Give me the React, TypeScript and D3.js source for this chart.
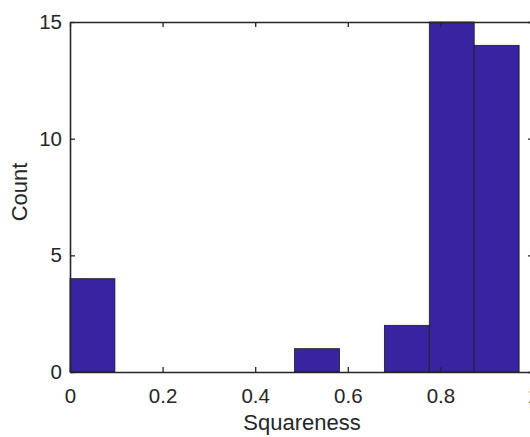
import React, { useEffect, useRef } from "react";
import * as d3 from "d3";

// histogram bins (edges) and counts
const binEdges = [0, 0.097, 0.194, 0.291, 0.388, 0.485, 0.582, 0.679, 0.776, 0.873, 0.97];
const binCounts = [4, 0, 0, 0, 0, 1, 0, 2, 15, 14];
const xTicks = [0, 0.2, 0.4, 0.6, 0.8, 1];
const yTicks = [0, 5, 10, 15];
const xLabel = "Squareness";
const yLabel = "Count";

const W = 530;
const H = 437;

const App = () => {
  const ref = useRef<SVGSVGElement | null>(null);

  useEffect(() => {
    const svg = d3.select(ref.current);
    svg.selectAll("*").remove();

    const margin = { top: 22, left: 70, right: 533, bottom: 372 };
    const x = d3.scaleLinear().domain([0, 1]).range([margin.left, margin.right]);
    const y = d3.scaleLinear().domain([0, 15]).range([margin.bottom, margin.top]);

    svg.append("rect").attr("width", W).attr("height", H).attr("fill", "#fff");

    const bins = binCounts.map((c, i) => ({ x0: binEdges[i], x1: binEdges[i + 1], c }));

    svg
      .append("g")
      .selectAll("rect")
      .data(bins.filter((d) => d.c > 0))
      .enter()
      .append("rect")
      .attr("x", (d) => x(d.x0))
      .attr("y", (d) => y(d.c))
      .attr("width", (d) => x(d.x1) - x(d.x0))
      .attr("height", (d) => y(0) - y(d.c))
      .attr("fill", "#3a23a0")
      .attr("stroke", "#1a1a1a")
      .attr("stroke-width", 0.8);

    const font = "'Liberation Sans', Arial, Helvetica, sans-serif";
    const styleAxis = (g: any) => {
      g.select(".domain").attr("stroke", "#262626").attr("stroke-width", 1.6);
      g.selectAll(".tick line").attr("stroke", "#262626").attr("stroke-width", 1.3);
      g.selectAll("text").attr("fill", "#262626").style("font-family", font).style("font-size", "20.5px");
    };

    svg
      .append("g")
      .attr("transform", `translate(0,${margin.bottom})`)
      .call(d3.axisBottom(x).tickValues(xTicks).tickSizeInner(-5).tickSizeOuter(0).tickPadding(16).tickFormat(d3.format("")))
      .call(styleAxis);

    svg
      .append("g")
      .attr("transform", `translate(${margin.left},0)`)
      .call(d3.axisLeft(y).tickValues(yTicks).tickSizeInner(-5).tickSizeOuter(0).tickPadding(8))
      .call(styleAxis);

    svg
      .append("g")
      .attr("transform", `translate(0,${margin.top})`)
      .call(d3.axisTop(x).tickValues(xTicks).tickSizeInner(-5).tickSizeOuter(0).tickFormat(() => ""))
      .call(styleAxis);

    svg
      .append("g")
      .attr("transform", `translate(${margin.right},0)`)
      .call(d3.axisRight(y).tickValues(yTicks).tickSizeInner(-5).tickSizeOuter(0).tickFormat(() => ""))
      .call(styleAxis);

    svg
      .append("text")
      .attr("x", 302)
      .attr("y", 430)
      .attr("text-anchor", "middle")
      .attr("fill", "#262626")
      .style("font-family", font)
      .style("font-size", "22px")
      .text(xLabel);

    svg
      .append("text")
      .attr("transform", `translate(27,192) rotate(-90)`)
      .attr("text-anchor", "middle")
      .attr("fill", "#262626")
      .style("font-family", font)
      .style("font-size", "22px")
      .text(yLabel);
  }, []);

  return (
    <svg
      ref={ref}
      width={W}
      height={H}
      style={{ position: "absolute", left: 0, top: 0, display: "block" }}
    />
  );
};

export default App;
